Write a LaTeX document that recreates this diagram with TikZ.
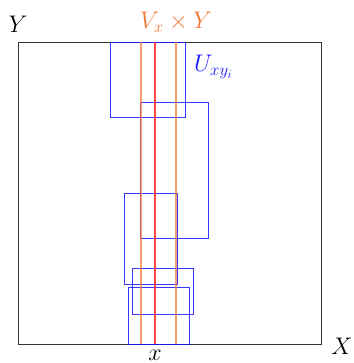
\RequirePackage{fix-cm}
\documentclass[tikz,border=0pt]{standalone}
\definecolor{lorange}{RGB}{240,120,50}
\definecolor{lred}{RGB}{255,40,40}
\definecolor{lblue}{RGB}{20,20,255}
\begin{document}
\begin{tikzpicture}[x=1pt,y=-1pt,
  frame/.style={draw=black!80,line width=0.9pt},
  urect/.style={draw=lblue,line width=0.9pt,opacity=0.85},
  oline/.style={draw=lorange,line width=1.1pt,opacity=0.7},
  rline/.style={draw=lred,line width=1.1pt,opacity=0.85},
  lab/.style={inner sep=0pt,anchor=base,font=\fontsize{24}{28}\selectfont}]
\useasboundingbox (0,0) rectangle (353,363);
\draw[frame] (18,42) rectangle (321,344);
\draw[urect] (110,42) rectangle (185,117);
\draw[urect] (140,102) rectangle (208,238);
\draw[urect] (124,193) rectangle (177,284);
\draw[urect] (132,268) rectangle (193,314);
\draw[urect] (128,287) rectangle (189,344);
\coordinate (o1t) at (141,42); \coordinate (o1b) at (141,344);
\coordinate (o2t) at (176,42); \coordinate (o2b) at (176,344);
\coordinate (rt) at (155,42); \coordinate (rb) at (155,344);
\draw[oline] (o1t) -- (o1b);
\draw[oline] (o2t) -- (o2b);
\draw[rline] (rt) -- (rb);
\node[lab] (ylab) at (18,33) {$Y$};
\node[lab,text=lorange] (vlab) at (176,29) {$V_x\times Y$};
\node[lab,text=lblue,anchor=base west] (ulab) at (194,72) {$U_{xy_i}$};
\node[lab,anchor=base west] (xlab) at (331,354) {$X$};
\node[lab] (xslab) at (155,360) {$x$};
\end{tikzpicture}
\end{document}
